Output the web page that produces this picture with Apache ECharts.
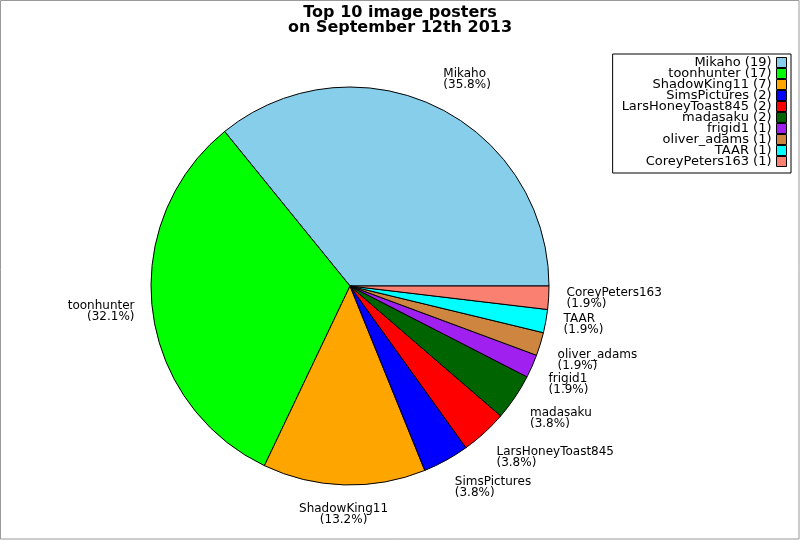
<!DOCTYPE html>
<html>
<head>
<meta charset="utf-8">
<script src="https://cdn.jsdelivr.net/npm/echarts@6/dist/echarts.min.js"></script>
<style>
html,body{margin:0;padding:0;background:#fff;}
#chart{width:800px;height:540px;}
</style>
</head>
<body>
<div id="chart"></div>
<script>
var titleLines = ['Top 10 image posters', 'on September 12th 2013'];
var names = ['Mikaho', 'toonhunter', 'ShadowKing11', 'SimsPictures', 'LarsHoneyToast845', 'madasaku', 'frigid1', 'oliver_adams', 'TAAR', 'CoreyPeters163'];
var counts = [19, 17, 7, 2, 2, 2, 1, 1, 1, 1];
var colors = ['#87CEEB', '#00FF00', '#FFA500', '#0000FF', '#FF0000', '#006400', '#A020F0', '#CD853F', '#00FFFF', '#FA8072'];

var total = counts.reduce(function (a, b) { return a + b; }, 0);
var data = names.map(function (n, i) {
  return { name: n, value: counts[i], itemStyle: { color: colors[i] } };
});
var font = 'DejaVu Sans';
var CX = 350, CY = 286, RADIUS = 199, LABEL_R = 217;

function midAngle(idx) {
  var cum = 0;
  for (var i = 0; i < idx; i++) cum += counts[i];
  return (cum + counts[idx] / 2) / total * Math.PI * 2;
}

var chart = echarts.init(document.getElementById('chart'));
chart.setOption({
  animation: false,
  backgroundColor: '#fff',
  graphic: [{
    type: 'rect', z: 100, silent: true,
    shape: { x: 0.5, y: 0.5, width: 798.5, height: 538.5 },
    style: { fill: 'none', stroke: '#999', lineWidth: 1 }
  }],
  title: {
    text: titleLines.join('\n'),
    left: 'center', top: 0,
    textStyle: { fontFamily: font, fontWeight: 'bold', fontSize: 16, lineHeight: 15, color: '#000' }
  },
  legend: {
    orient: 'vertical', right: 9, top: 54, align: 'right',
    backgroundColor: '#fff', borderColor: '#000', borderWidth: 1,
    padding: [2, 4, 5, 9], itemGap: -2, itemWidth: 10, itemHeight: 10,
    icon: 'rect', selectedMode: false,
    itemStyle: { borderColor: '#000', borderWidth: 1 },
    formatter: function (n) { return n + ' (' + counts[names.indexOf(n)] + ')'; },
    textStyle: { fontFamily: font, fontSize: 13, color: '#000' },
    data: names
  },
  series: [{
    type: 'pie',
    center: [CX, CY], radius: RADIUS,
    startAngle: 0, clockwise: false,
    avoidLabelOverlap: false,
    silent: true,
    itemStyle: { borderColor: '#000', borderWidth: 1 },
    label: {
      show: true, position: 'outside',
      fontFamily: font, fontSize: 12, lineHeight: 11, color: '#000',
      formatter: function (p) { return p.name + '\n(' + (p.value / total * 100).toFixed(1) + '%)'; }
    },
    labelLine: { show: false, length: 12, length2: 0 },
    labelLayout: function (params) {
      var a = midAngle(params.dataIndex);
      var c = Math.cos(a), s = Math.sin(a);
      var px = CX + LABEL_R * c, py = CY - LABEL_R * s;
      var align = c > 0.25 ? 'left' : (c < -0.25 ? 'right' : 'center');
      var va = s > 0.25 ? 'bottom' : (s < -0.25 ? 'top' : 'middle');
      return { x: px, y: py, align: align, verticalAlign: va };
    },
    data: data
  }]
});
</script>
</body>
</html>
